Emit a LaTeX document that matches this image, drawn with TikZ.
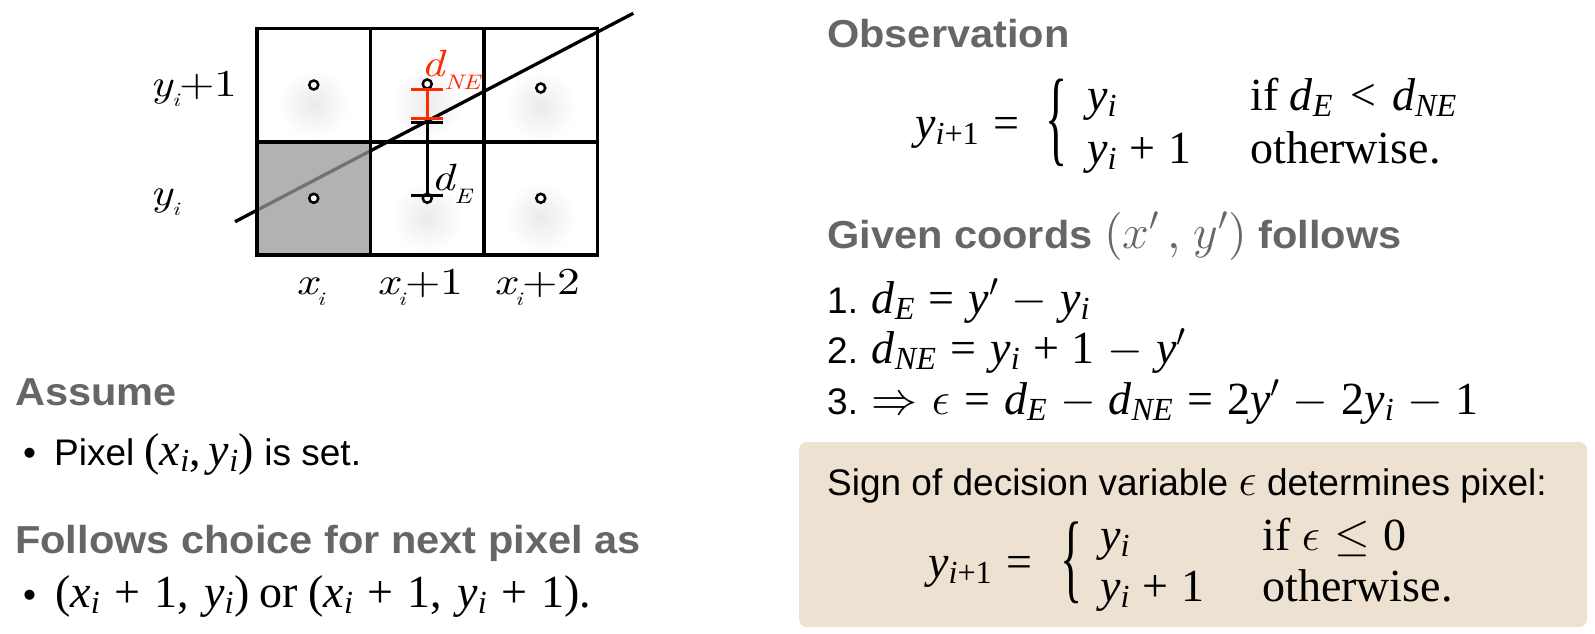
\RequirePackage{fix-cm}
\documentclass[tikz,border=0pt]{standalone}
\usepackage[no-math]{fontspec}
\setmainfont{Liberation Serif}
\newfontfamily\sansf{Liberation Sans}
\newfontfamily\headf{Liberation Sans}[FakeStretch=1.065]
\newfontfamily\tmsf{Liberation Serif}[NFSSFamily=libserif]
\newfontfamily\lmr{lmroman10}[Extension=.otf,UprightFont=*-regular,ItalicFont=*-italic]
\DeclareSymbolFont{cmletters}{OML}{cmm}{m}{it}
\DeclareSymbolFont{letters}{TU}{libserif}{m}{it}
\DeclareSymbolFont{operators}{TU}{libserif}{m}{n}
\DeclareMathSymbol{,}{\mathpunct}{operators}{"2C}
\DeclareMathSymbol{\epsilon}{\mathord}{cmletters}{"0F}
\DeclareMathSymbol{\cmx}{\mathalpha}{cmletters}{`x}
\DeclareMathSymbol{\cmy}{\mathalpha}{cmletters}{`y}
\definecolor{headgray}{HTML}{666666}
\definecolor{boxbeige}{HTML}{EDE1D2}
\definecolor{dred}{HTML}{FF2A00}
\definecolor{cellgray}{HTML}{999999}
\newcommand\lsub[3]{\raisebox{-#1pt}{\fontsize{#2}{#2}\selectfont\itshape #3}}
\newcommand\wide[1]{\scalebox{1.2}[1]{#1}}
\newcommand\mth[1]{{\fontsize{46}{54}\selectfont\thickmuskip=5.5mu plus 2mu\medmuskip=5mu\relax$#1$}}
\newcommand\mthw[1]{{\fontsize{46}{54}\selectfont\thickmuskip=5.5mu plus 2mu\medmuskip=5.5mu\relax$#1$}}
\newcommand\bigbrace[1]{\scalebox{1}[#1]{\fontsize{46}{46}\selectfont\tmsf\{}}
\tikzset{
  gridline/.style={line width=3.6pt, line join=miter},
  pixdot/.style={circle, draw, line width=2.5pt, fill=white, inner sep=0pt, minimum size=9pt},
  glow/.style={inner color=black!8, outer color=white},
  barline/.style={line width=2.5pt},
  capline/.style={line width=3pt},
  head/.style={anchor=base west, inner sep=0pt, text=headgray, font=\fontsize{39}{46}\selectfont\headf\bfseries},
  body/.style={anchor=base west, inner sep=0pt, font=\fontsize{37}{44}\selectfont\sansf},
  mathf/.style={anchor=base west, inner sep=0pt, font=\fontsize{46}{54}\selectfont},
  bracef/.style={anchor=center, inner sep=0pt},
  lab/.style={anchor=base west, inner sep=0pt, font=\fontsize{38}{38}\selectfont\lmr},
  notebox/.style={fill=boxbeige, rounded corners=8pt}
}
\begin{document}
\begin{tikzpicture}[x=1pt,y=-1pt]
\path[use as bounding box, fill=white] (0,0) rectangle (1595,634);

% glow under pixel centres
\shade[glow] (313.75,104) circle [radius=36pt];
\shade[glow] (427.25,104) circle [radius=36pt];
\shade[glow] (540.75,106) circle [radius=36pt];
\shade[glow] (427.25,217) circle [radius=36pt];
\shade[glow] (540.75,217) circle [radius=36pt];

% the ideal line
\coordinate (lnA) at (235,221.7);
\coordinate (lnB) at (633.3,13.3);
\draw[line width=3.3pt] (lnA) -- (lnB);

% set pixel (semi-transparent over the line)
\fill[cellgray, fill opacity=0.75] (257,141.7) rectangle (370.5,255);

% grid
\draw[gridline] (257,28.5) rectangle (597.5,255);
\draw[gridline] (370.5,28.5) -- (370.5,255);
\draw[gridline] (484,28.5) -- (484,255);
\draw[gridline] (257,141.7) -- (597.5,141.7);

% pixel centres
\node[pixdot] (p11) at (313.75,85) {};
\node[pixdot] (p21) at (427.25,84) {};
\node[pixdot] (p31) at (540.75,88) {};
\node[pixdot] (p10) at (313.75,198.3) {};
\node[pixdot] (p20) at (427.25,198.3) {};
\node[pixdot] (p30) at (540.75,198.3) {};

% d_NE bar (red)
\draw[dred, barline] (427.25,89.3) -- (427.25,118.3);
\draw[dred, capline] (411,89.3) -- (443,89.3);
\draw[dred, capline] (411,118.3) -- (443,118.3);
% d_E bar (black)
\draw[barline] (427.25,122.7) -- (427.25,195);
\draw[capline] (411,122.7) -- (443,122.7);
\draw[capline] (411,195) -- (443,195);

% diagram labels
\node[lab] (lyi1) at (150,96.7) {\wide{{\itshape y}\lsub{10}{19}{i}+1}};
\node[lab] (lyi) at (150,205) {\wide{{\itshape y}\lsub{10}{19}{i}}};
\node[lab] (lxi) at (296,294) {\wide{{\itshape x}\lsub{11}{19}{i}}};
\node[lab] (lxi1) at (377,294) {\wide{{\itshape x}\lsub{11}{19}{i}+1}};
\node[lab] (lxi2) at (494,294) {\wide{{\itshape x}\lsub{11}{19}{i}+2}};
\node[lab, text=dred] (ldne) at (421,77) {\wide{{\itshape d}\lsub{13}{21}{NE}}};
\node[lab] (lde) at (431,190) {\wide{{\itshape d}\lsub{13}{21}{E}}};

% left text
\node[head] (assume) at (15,405) {Assume};
\node[body] (pixset) at (23,465) {\textbullet\hspace{18pt}Pixel \mth{(x_i, y_i)} is set.};
\node[head] (follows) at (15,553) {Follows choice for next pixel as};
\node[body] (choice) at (23,607) {\textbullet\hspace{19pt}\mthw{(x_i + 1,\, y_i)}\ {\fontsize{46}{54}\selectfont\tmsf or}\ \mthw{(x_i + 1,\, y_i + 1)}{\fontsize{46}{54}\selectfont\tmsf .}};

% right text: observation
\node[head] (obs) at (827,48) {Observation};
\node[mathf] (obsl) at (915,138) {\mth{y_{i+1} =}};
\node[bracef] (obsb) at (1057,123) {\bigbrace{2.3}};
\node[mathf] (obsr1) at (1087,110) {\mth{y_i}};
\node[mathf] (obsr2) at (1087,163) {\mth{y_i + 1}};
\node[mathf] (obsc1) at (1250,110) {if \mth{d_E < d_{NE}}};
\node[mathf] (obsc2) at (1250,163) {otherwise.};

% given coords
\node[head] (given) at (827,248) {Given coords {\mdseries\fontsize{48}{54}\selectfont\lmr($\cmx'$\,,\;$\cmy'$)} follows};
\node[body] (st1) at (827,313) {1. \mth{d_E = y' - y_i}};
\node[body] (st2) at (827,363) {2. \mth{d_{NE} = y_i + 1 - y'}};
\node[body] (st3) at (827,414) {3. \mth{\Rightarrow \epsilon = d_E - d_{NE} = 2y' - 2y_i - 1}};

% decision box
\path[notebox] (799,442) rectangle (1587,627);
\node[body] (sign) at (827,495) {Sign of decision variable \mth{\epsilon} determines pixel:};
\node[mathf] (signl) at (928,577) {\mth{y_{i+1} =}};
\node[bracef] (signb) at (1072,563) {\bigbrace{2.15}};
\node[mathf] (signr1) at (1100,550) {\mth{y_i}};
\node[mathf] (signr2) at (1100,601) {\mth{y_i + 1}};
\node[mathf] (signc1) at (1262,550) {if \mth{\epsilon \le 0}};
\node[mathf] (signc2) at (1262,601) {otherwise.};
\end{tikzpicture}
\end{document}
